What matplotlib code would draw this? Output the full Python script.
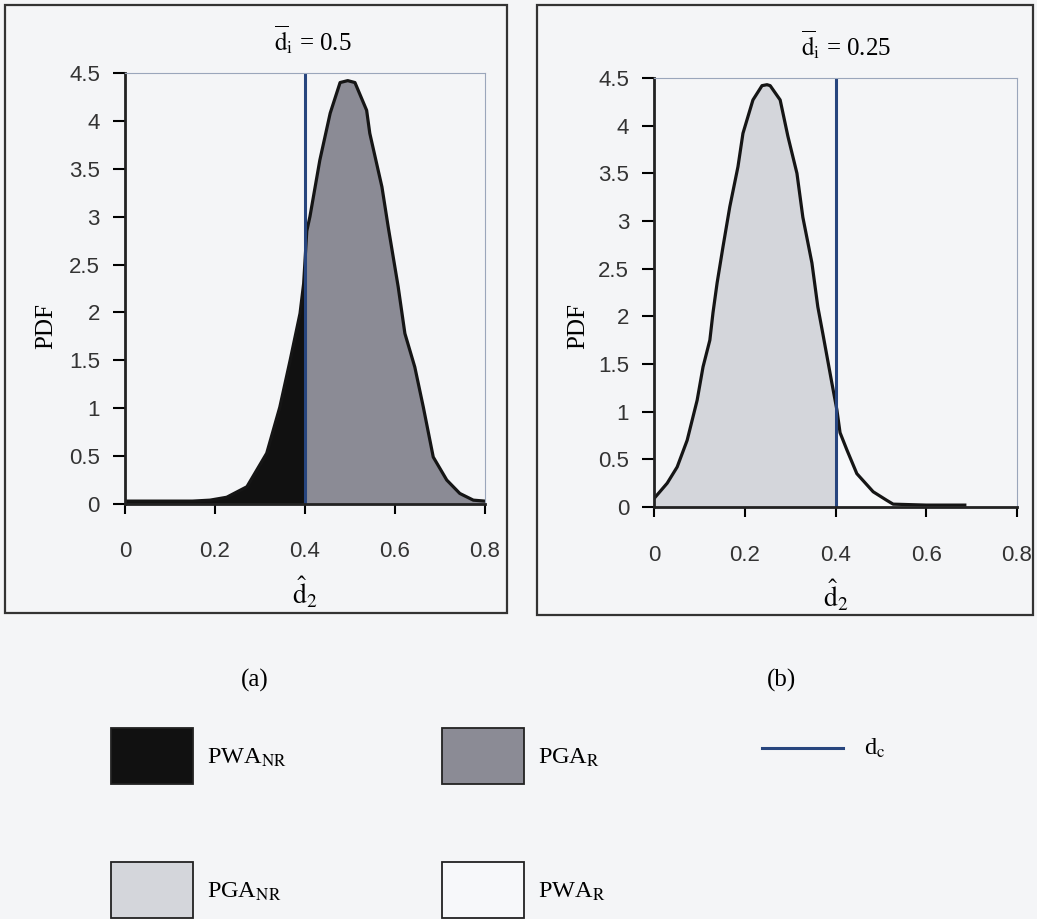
import matplotlib.pyplot as plt
from matplotlib.patches import Rectangle
from matplotlib.lines import Line2D
import numpy as np

# values
d2_a = [0.0, 0.05, 0.10, 0.15, 0.189, 0.226, 0.271, 0.315, 0.344, 0.367, 0.389, 0.397,
        0.404, 0.411, 0.433, 0.456, 0.478, 0.495, 0.511, 0.537, 0.544, 0.571, 0.585,
        0.607, 0.622, 0.644, 0.663, 0.685, 0.715, 0.744, 0.774, 0.8]
pdf_a = [0.03, 0.03, 0.03, 0.03, 0.04, 0.07, 0.18, 0.53, 1.01, 1.50, 1.99, 2.30,
         2.85, 3.00, 3.59, 4.08, 4.40, 4.42, 4.40, 4.11, 3.87, 3.31, 2.89,
         2.27, 1.78, 1.43, 1.01, 0.49, 0.25, 0.11, 0.04, 0.03]

d2_b = [0.002, 0.029, 0.051, 0.073, 0.095, 0.108, 0.123, 0.130, 0.139, 0.152, 0.167,
        0.185, 0.196, 0.218, 0.238, 0.249, 0.256, 0.278, 0.295, 0.315, 0.328, 0.348,
        0.361, 0.372, 0.392, 0.403, 0.410, 0.425, 0.447, 0.483, 0.513, 0.527, 0.60, 0.685]
pdf_b = [0.10, 0.25, 0.42, 0.70, 1.12, 1.47, 1.75, 2.04, 2.35, 2.73, 3.15,
         3.57, 3.92, 4.27, 4.42, 4.43, 4.42, 4.27, 3.89, 3.50, 3.04, 2.56,
         2.10, 1.82, 1.30, 1.02, 0.78, 0.60, 0.35, 0.16, 0.07, 0.03, 0.02, 0.02]

d_c = 0.4
titles = [r"$\overline{\mathrm{d}}_\mathrm{i}$ = 0.5", r"$\overline{\mathrm{d}}_\mathrm{i}$ = 0.25"]
panel_tags = ["(a)", "(b)"]
xticks = [0, 0.2, 0.4, 0.6, 0.8]
xticklabels = ["0", "0.2", "0.4", "0.6", "0.8"]
yticks = [0, 0.5, 1, 1.5, 2, 2.5, 3, 3.5, 4, 4.5]
yticklabels = ["0", "0.5", "1", "1.5", "2", "2.5", "3", "3.5", "4", "4.5"]

c_black = "#111111"
c_grey = "#8b8b95"
c_light = "#d4d6db"
c_white = "#f7f8fa"
c_blue = "#27457e"
bg = "#f4f5f7"

plt.rcParams["font.family"] = ["Liberation Serif", "DejaVu Serif"]
plt.rcParams["mathtext.fontset"] = "stix"
tick_font = ["Liberation Sans", "DejaVu Sans"]

fig = plt.figure(figsize=(10.37, 9.19), dpi=100, facecolor=bg)

# overlay for frames and legend, in pixel coords
ov = fig.add_axes([0, 0, 1, 1], zorder=-1)
ov.set_xlim(0, 1037)
ov.set_ylim(919, 0)
ov.axis("off")

ax_a = fig.add_axes([0.1205, 0.4516, 0.3472, 0.469])
ax_b = fig.add_axes([0.6307, 0.4483, 0.350, 0.4668])


def draw_panel(ax, x, y, c_left, c_right, title, tx, ty, lx, ly):
    x = np.asarray(x)
    y = np.asarray(y)
    yc = np.interp(d_c, x, y)
    left = x < d_c
    xl = np.append(x[left], d_c)
    yl = np.append(y[left], yc)
    xr = np.insert(x[~left], 0, d_c)
    yr = np.insert(y[~left], 0, yc)
    ax.fill_between(xl, 0, yl, color=c_left, lw=0)
    ax.fill_between(xr, 0, yr, color=c_right, lw=0)
    ax.plot(x, y, color="#151515", lw=2.3)
    ax.axvline(d_c, color=c_blue, lw=2.2)
    ax.set_xlim(0, 0.8)
    ax.set_ylim(0, 4.5)
    ax.set_facecolor(bg)
    ax.set_xticks(xticks)
    ax.set_xticklabels(xticklabels, family=tick_font, fontsize=16, color="#333333")
    ax.set_yticks(yticks)
    ax.set_yticklabels(yticklabels, family=tick_font, fontsize=16, color="#333333")
    ax.tick_params(axis="y", direction="out", length=9, width=1.5, pad=9)
    ax.tick_params(axis="x", direction="out", length=7, width=1.5, pad=20)
    for s in ["left", "bottom"]:
        ax.spines[s].set_linewidth(2.0)
        ax.spines[s].set_color("#222222")
    for s in ["top", "right"]:
        ax.spines[s].set_linewidth(0.8)
        ax.spines[s].set_color("#9aa6bb")
    ax.set_ylabel("PDF", fontsize=18)
    ax.yaxis.set_label_coords(lx, ly)
    ax.set_xlabel(r"$\hat{\mathrm{d}}_2$", fontsize=20, labelpad=9)
    ax.text(tx, ty, title, transform=ax.transAxes, fontsize=18, ha="center", va="center")


draw_panel(ax_a, d2_a, pdf_a, c_black, c_grey, titles[0], 0.522, 1.077, -0.189, 0.413)
draw_panel(ax_b, d2_b, pdf_b, c_light, c_white, titles[1], 0.529, 1.077, -0.179, 0.422)

# panel frames
ov.add_patch(Rectangle((5, 5), 502, 608, fill=False, lw=1.6, ec="#333333"))
ov.add_patch(Rectangle((537, 5), 496, 610, fill=False, lw=1.6, ec="#333333"))

ov.text(255, 680, panel_tags[0], fontsize=18, ha="center", va="center")
ov.text(781, 680, panel_tags[1], fontsize=18, ha="center", va="center")

# legend
legend_items = [
    ("PWA$_{\\mathrm{NR}}$", c_black, 111, 728),
    ("PGA$_{\\mathrm{R}}$", c_grey, 442, 728),
    ("PGA$_{\\mathrm{NR}}$", c_light, 111, 862),
    ("PWA$_{\\mathrm{R}}$", c_white, 442, 862),
]
for label, col, x0, y0 in legend_items:
    ov.add_patch(Rectangle((x0, y0), 82, 56, fc=col, ec="#222222", lw=1.3))
    ov.text(x0 + 96, y0 + 30, label, fontsize=17.5, ha="left", va="center")
ov.add_line(Line2D([762, 843], [748, 748], color=c_blue, lw=2.2))
ov.text(864, 748, "d$_\\mathrm{c}$", fontsize=17.5, ha="left", va="center")

fig.savefig("out.png", dpi=100, facecolor=bg)
